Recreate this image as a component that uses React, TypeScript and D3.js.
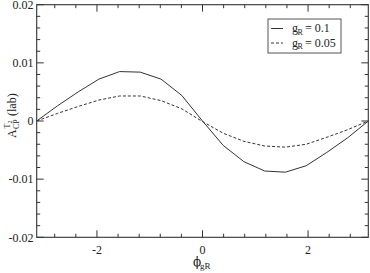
import React from "react";
import * as d3 from "d3";

const PI = Math.PI;
// phi sampled at k*pi/8, k = -8..8
const phiSteps = [-8, -7, -6, -5, -4, -3, -2, -1, 0, 1, 2, 3, 4, 5, 6, 7, 8];
const solidValues = [0, 0.0026, 0.005, 0.0072, 0.0085, 0.0084, 0.0072, 0.0044, 0.0, -0.0042, -0.007, -0.0086, -0.0088, -0.0077, -0.0054, -0.0029, 0];
const dashedValues = [0, 0.0013, 0.0025, 0.0036, 0.0043, 0.0043, 0.0035, 0.0021, -0.0001, -0.0021, -0.0035, -0.0043, -0.0045, -0.004, -0.0028, -0.0015, 0];
const xMajorTicks = [-2, 0, 2];
const yMajorTicks = [-0.02, -0.01, 0, 0.01, 0.02];
const yTickLabels = ["-0.02", "-0.01", "0", "0.01", "0.02"];
const legendLabels = ["0.1", "0.05"];

const W = 370, H = 273;
const L = 36.7, R = 368.3, T = 4.7, B = 237.3;
const AX = "#333";
const FONT = "Liberation Serif, DejaVu Serif, Times New Roman, serif";
const TS = { fontFamily: FONT };

export default function App() {
  const x = d3.scaleLinear().domain([-PI, PI]).range([L, R]);
  const y = d3.scaleLinear().domain([-0.02, 0.02]).range([B, T]);
  const line = d3
    .line<[number, number]>()
    .x((d) => x(d[0]))
    .y((d) => y(d[1]));
  const solid = phiSteps.map((k, i) => [(k * PI) / 8, solidValues[i]] as [number, number]);
  const dashed = phiSteps.map((k, i) => [(k * PI) / 8, dashedValues[i]] as [number, number]);

  const xMinor = d3.range(-14, 15, 2).map((v) => v / 5).filter((v) => Math.abs(v % 2) > 1e-6 && Math.abs(v) < PI);
  const yMinor = d3.range(-10, 11).map((v) => v * 0.002).filter((v) => Math.abs(Math.round(v * 100) - v * 100) > 1e-6);

  const MAJ = 7, MIN = 3.5;
  const ticks: any[] = [];
  xMajorTicks.forEach((v, i) => {
    ticks.push(<line key={"xb" + i} x1={x(v)} x2={x(v)} y1={B} y2={B - MAJ} />);
    ticks.push(<line key={"xt" + i} x1={x(v)} x2={x(v)} y1={T} y2={T + MAJ} />);
  });
  xMinor.forEach((v, i) => {
    ticks.push(<line key={"xbm" + i} x1={x(v)} x2={x(v)} y1={B} y2={B - MIN} />);
    ticks.push(<line key={"xtm" + i} x1={x(v)} x2={x(v)} y1={T} y2={T + MIN} />);
  });
  yMajorTicks.forEach((v, i) => {
    ticks.push(<line key={"yl" + i} x1={L} x2={L + MAJ} y1={y(v)} y2={y(v)} />);
    ticks.push(<line key={"yr" + i} x1={R} x2={R - MAJ} y1={y(v)} y2={y(v)} />);
  });
  yMinor.forEach((v, i) => {
    ticks.push(<line key={"ylm" + i} x1={L} x2={L + MIN} y1={y(v)} y2={y(v)} />);
    ticks.push(<line key={"yrm" + i} x1={R} x2={R - MIN} y1={y(v)} y2={y(v)} />);
  });

  return (
    <svg
      width={W}
      height={H}
      style={{ position: "absolute", left: 0, top: 0, background: "#fff", fontFamily: FONT }}
    >
      <rect x={0} y={0} width={W} height={H} fill="#fff" />
      <path d={line(solid) || ""} fill="none" stroke={AX} strokeWidth={1} />
      <path d={line(dashed) || ""} fill="none" stroke={AX} strokeWidth={1} strokeDasharray="3,2" />
      <g stroke={AX} strokeWidth={1}>{ticks}</g>
      <rect x={L} y={T} width={R - L} height={B - T} fill="none" stroke={AX} strokeWidth={1.1} />
      <g fontSize={12} fill="#222" style={TS}>
        {yMajorTicks.map((v, i) => (
          <text key={"yl" + i} x={33.5} y={y(v) + 4.2} textAnchor="end" style={TS}>
            {yTickLabels[i]}
          </text>
        ))}
        {xMajorTicks.map((v, i) => (
          <text key={"xl" + i} x={x(v)} y={253.5} textAnchor="middle" style={TS}>
            {String(v)}
          </text>
        ))}
      </g>
      {/* x axis title */}
      <g fill="#222">
        <text x={193} y={265.5} fontSize={12} style={{ fontFamily: "DejaVu Serif, serif" }}>ϕ</text>
        <text x={200} y={268.5} fontSize={9} style={TS}>gR</text>
      </g>
      {/* y axis title */}
      <g transform="translate(15.5,138) rotate(-90)" fill="#222" style={TS}>
        <text x={0} y={0} fontSize={12} style={TS}>A</text>
        <text x={9} y={3} fontSize={8} style={TS}>CP</text>
        <text x={9.5} y={-5.5} fontSize={8} style={TS}>T</text>
        <text x={14.5} y={-3.5} fontSize={6} style={TS}>2</text>
        <text x={22} y={0} fontSize={12} style={TS}>(lab)</text>
      </g>
      {/* legend */}
      <rect x={268} y={19} width={73} height={34} fill="#fff" stroke="#555" strokeWidth={1} />
      {legendLabels.map((lab, i) => {
        const by = 32 + i * 14.5;
        return (
          <g key={"lg" + i} fill="#222">
            <line
              x1={271}
              x2={283}
              y1={by - 3.5}
              y2={by - 3.5}
              stroke={AX}
              strokeWidth={1}
              strokeDasharray={i === 1 ? "3,2" : undefined}
            />
            <text x={292} y={by} fontSize={12} style={TS}>g</text>
            <text x={297.5} y={by + 2.5} fontSize={8} style={TS}>R</text>
            <text x={305} y={by} fontSize={12} style={TS}>= {lab}</text>
          </g>
        );
      })}
    </svg>
  );
}
